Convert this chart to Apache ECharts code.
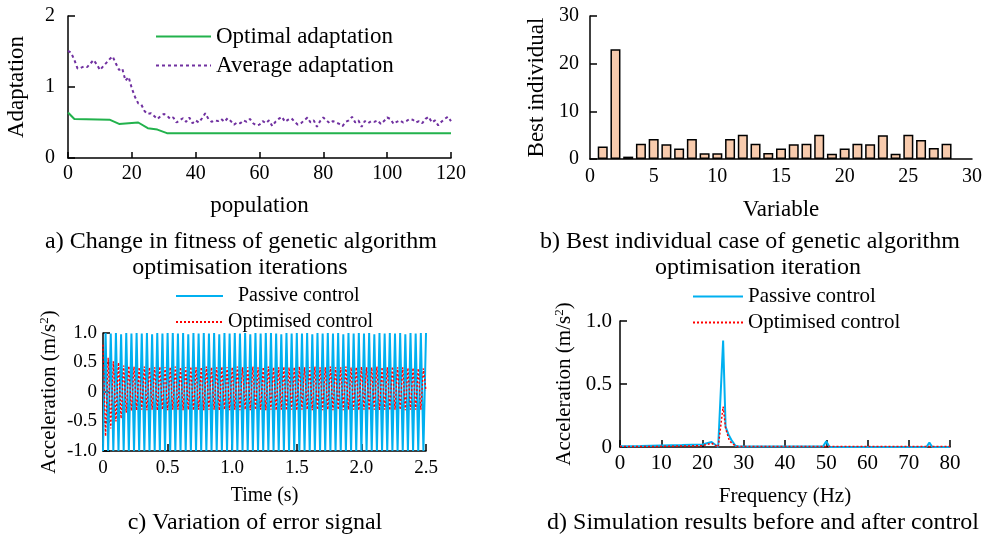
<!DOCTYPE html>
<html>
<head>
<meta charset="utf-8">
<script src="https://cdn.jsdelivr.net/npm/echarts@6/dist/echarts.min.js"></script>
<style>
  html, body { margin: 0; padding: 0; background: #fff; }
  #chart { width: 990px; height: 538px; }
</style>
</head>
<body>
<div id="chart"></div>
<script>
const serif = 'Liberation Serif, Times New Roman, serif';

// a) fitness per generation
const optimalGen = [0, 2, 13, 16, 22, 25, 28, 31, 120];
const optimalFit = [0.64, 0.55, 0.54, 0.48, 0.50, 0.42, 0.40, 0.35, 0.35];
// average fitness, one value per generation 0..120
const averageFit = [
  1.51, 1.48, 1.38, 1.26, 1.27, 1.29, 1.28, 1.33, 1.38, 1.32,
  1.24, 1.29, 1.34, 1.39, 1.43, 1.33, 1.24, 1.26, 1.09, 1.14,
  0.98, 0.86, 0.77, 0.75, 0.66, 0.62, 0.63, 0.59, 0.55, 0.59,
  0.62, 0.60, 0.55, 0.57, 0.50, 0.53, 0.56, 0.51, 0.57, 0.49,
  0.53, 0.50, 0.56, 0.63, 0.55, 0.51, 0.53, 0.52, 0.55, 0.51,
  0.56, 0.52, 0.47, 0.50, 0.49, 0.53, 0.51, 0.55, 0.49, 0.46,
  0.47, 0.52, 0.49, 0.53, 0.45, 0.51, 0.55, 0.58, 0.51, 0.54,
  0.56, 0.51, 0.47, 0.49, 0.53, 0.57, 0.50, 0.53, 0.44, 0.52,
  0.57, 0.53, 0.49, 0.52, 0.50, 0.48, 0.45, 0.51, 0.53, 0.58,
  0.50, 0.53, 0.44, 0.52, 0.49, 0.52, 0.51, 0.53, 0.48, 0.52,
  0.57, 0.55, 0.48, 0.51, 0.53, 0.50, 0.52, 0.55, 0.54, 0.50,
  0.52, 0.49, 0.55, 0.58, 0.50, 0.53, 0.46, 0.51, 0.55, 0.58,
  0.52
];

// b) best individual per variable
const variables = [1, 2, 3, 4, 5, 6, 7, 8, 9, 10, 11, 12, 13, 14, 15, 16, 17, 18, 19, 20, 21, 22, 23, 24, 25, 26, 27, 28];
const bestIndividual = [2.6, 23, 0.5, 3.2, 4.2, 3.1, 2.2, 4.2, 1.2, 1.2, 4.2, 5.1, 3.2, 1.25, 2.2, 3.1, 3.2, 5.1, 1.1, 2.2, 3.2, 3.1, 5.0, 1.1, 5.1, 4.0, 2.3, 3.2];

// c) error signal, sampled every 0.02 s from 0 to 2.5 s
const sampleStep = 0.02;
const passiveSignal = [
  -1.0, 1.0, -1.0, 0.99, -1.0, 1.0, -1.0, 0.98, -1.0, 1.0,
  -1.0, 0.99, -1.0, 1.0, -1.0, 0.99, -1.0, 1.0, -1.0, 0.98,
  -1.0, 1.0, -1.0, 0.99, -1.0, 1.0, -1.0, 1.0, -1.0, 0.99,
  -1.0, 1.0, -1.0, 0.98, -1.0, 1.0, -1.0, 0.99, -1.0, 1.0,
  -1.0, 0.99, -1.0, 1.0, -1.0, 0.98, -1.0, 1.0, -1.0, 0.99,
  -1.0, 1.0, -1.0, 0.99, -1.0, 1.0, -1.0, 0.98, -1.0, 1.0,
  -1.0, 0.99, -1.0, 1.0, -1.0, 1.0, -1.0, 0.99, -1.0, 0.98,
  -1.0, 1.0, -1.0, 0.99, -1.0, 1.0, -1.0, 0.99, -1.0, 1.0,
  -1.0, 0.98, -1.0, 1.0, -1.0, 0.99, -1.0, 1.0, -1.0, 0.99,
  -1.0, 1.0, -1.0, 0.98, -1.0, 1.0, -1.0, 0.99, -1.0, 1.0,
  -1.0, 0.99, -1.0, 1.0, -1.0, 0.98, -1.0, 1.0, -1.0, 0.99,
  -1.0, 1.0, -1.0, 0.99, -1.0, 1.0, -1.0, 0.98, -1.0, 1.0,
  -1.0, 0.99, -1.0, 1.0, -1.0, 1.0
];
const optimisedSignal = [
  0.80, -0.75, 0.58, -0.62, 0.52, -0.50, 0.50, -0.45, 0.45, -0.35,
  0.44, -0.32, 0.43, -0.31, 0.42, -0.30, 0.43, -0.31, 0.42, -0.30,
  0.42, -0.31, 0.43, -0.30, 0.42, -0.31, 0.42, -0.30, 0.43, -0.30,
  0.42, -0.31, 0.42, -0.30, 0.43, -0.31, 0.42, -0.30, 0.42, -0.31,
  0.43, -0.30, 0.42, -0.30, 0.42, -0.31, 0.43, -0.30, 0.42, -0.31,
  0.42, -0.30, 0.43, -0.31, 0.42, -0.30, 0.42, -0.31, 0.43, -0.30,
  0.42, -0.30, 0.42, -0.31, 0.43, -0.30, 0.42, -0.31, 0.42, -0.30,
  0.43, -0.31, 0.42, -0.30, 0.42, -0.31, 0.43, -0.30, 0.42, -0.30,
  0.42, -0.31, 0.43, -0.30, 0.42, -0.31, 0.42, -0.30, 0.43, -0.31,
  0.42, -0.30, 0.42, -0.31, 0.43, -0.30, 0.42, -0.30, 0.42, -0.31,
  0.43, -0.30, 0.42, -0.31, 0.42, -0.30, 0.43, -0.31, 0.42, -0.30,
  0.42, -0.31, 0.43, -0.30, 0.42, -0.30, 0.42, -0.31, 0.41, -0.30,
  0.41, -0.30, 0.40, -0.30, 0.40, 0.02
];

// d) spectrum
const passiveFreq = [0, 5, 10, 15, 20, 22.2, 23.8, 25, 25.6, 26.3, 27.1, 28, 29, 40, 49.2, 50, 50.8, 60, 70, 74.3, 75, 75.7, 80];
const passiveAmp = [0.005, 0.008, 0.012, 0.015, 0.02, 0.04, 0.0, 0.845, 0.16, 0.10, 0.05, 0.01, 0.003, 0.003, 0.003, 0.045, 0.0, 0.0, 0.0, 0.0, 0.035, 0.0, 0.0];
const optimisedFreq = [0, 10, 20, 22.2, 23.8, 25, 25.6, 26.5, 27.5, 28.5, 30, 80];
const optimisedAmp = [0.003, 0.005, 0.01, 0.03, 0.0, 0.32, 0.15, 0.05, 0.02, 0.003, 0.003, 0.003];

const captions = [
  { text: 'a) Change in fitness of genetic algorithm', x: 241, y: 242 },
  { text: 'optimisation iterations', x: 240, y: 268 },
  { text: 'b) Best individual case of genetic algorithm', x: 750, y: 242 },
  { text: 'optimisation iteration', x: 758, y: 268 },
  { text: 'c) Variation of error signal', x: 255, y: 523 },
  { text: 'd) Simulation results before and after control', x: 763, y: 523 }
];

function axis(opts) {
  return Object.assign({
    type: 'value',
    splitLine: { show: false },
    axisLine: { onZero: false, lineStyle: { color: '#000', width: 1.5 } },
    axisTick: { inside: true, length: 7, lineStyle: { color: '#000', width: 1.5 } },
    axisLabel: { color: '#000', fontFamily: serif, fontSize: 20 },
    nameLocation: 'middle',
    nameTextStyle: { color: '#000', fontFamily: serif, fontSize: 23 }
  }, opts);
}

const oneDecimal = v => (v === 0 ? '0' : v.toFixed(1));
const supRich = { sup: { fontSize: 13, fontFamily: serif, color: '#000', padding: [0, 0, 10, 0] } };

const chart = echarts.init(document.getElementById('chart'));
chart.setOption({
  animation: false,
  backgroundColor: '#fff',
  grid: [
    { left: 68, top: 16, width: 383, height: 142 },
    { left: 590, top: 16, width: 382, height: 143 },
    { left: 103, top: 333, width: 323, height: 118 },
    { left: 620, top: 321, width: 330, height: 126 }
  ],
  xAxis: [
    axis({ gridIndex: 0, min: 0, max: 120, interval: 20, name: 'population', nameGap: 36,
      axisTick: { inside: true, length: 6, lineStyle: { color: '#000', width: 1.5 } },
      axisLabel: { color: '#000', fontFamily: serif, fontSize: 20, margin: 6 } }),
    axis({ gridIndex: 1, min: 0, max: 30, interval: 5, name: 'Variable', nameGap: 39,
      axisTick: { show: false },
      axisLabel: { color: '#000', fontFamily: serif, fontSize: 20, margin: 8 } }),
    axis({ gridIndex: 2, min: 0, max: 2.5, interval: 0.5, name: 'Time (s)', nameGap: 35,
      axisLabel: { color: '#000', fontFamily: serif, fontSize: 19, margin: 8, formatter: oneDecimal },
      nameTextStyle: { color: '#000', fontFamily: serif, fontSize: 20 } }),
    axis({ gridIndex: 3, min: 0, max: 80, interval: 10, name: 'Frequency (Hz)', nameGap: 39,
      axisLabel: { color: '#000', fontFamily: serif, fontSize: 21, margin: 6 },
      nameTextStyle: { color: '#000', fontFamily: serif, fontSize: 21 } })
  ],
  yAxis: [
    axis({ gridIndex: 0, min: 0, max: 2, interval: 1, name: 'Adaptation', nameGap: 40,
      axisLabel: { color: '#000', fontFamily: serif, fontSize: 20, margin: 13 } }),
    axis({ gridIndex: 1, min: 0, max: 30, interval: 10, name: 'Best individual', nameGap: 42,
      axisLabel: { color: '#000', fontFamily: serif, fontSize: 20, margin: 11 } }),
    axis({ gridIndex: 2, min: -1, max: 1, interval: 0.5, name: 'Acceleration (m/s{sup|2})', nameRotate: 90, nameGap: 42,
      axisLabel: { color: '#000', fontFamily: serif, fontSize: 19, margin: 6, formatter: oneDecimal },
      nameTextStyle: { color: '#000', fontFamily: serif, fontSize: 21, rich: supRich } }),
    axis({ gridIndex: 3, min: 0, max: 1, interval: 0.5, name: 'Acceleration (m/s{sup|2})', nameRotate: 90, nameGap: 44,
      axisLabel: { color: '#000', fontFamily: serif, fontSize: 21, margin: 8, formatter: oneDecimal },
      nameTextStyle: { color: '#000', fontFamily: serif, fontSize: 21, rich: supRich } })
  ],
  legend: [
    { orient: 'vertical', left: 155, top: 25, padding: 0, itemWidth: 55, itemHeight: 12, itemGap: 6,
      itemStyle: { opacity: 0 },
      data: ['Optimal adaptation', 'Average adaptation'],
      textStyle: { color: '#000', fontFamily: serif, fontSize: 23 } },
    { orient: 'vertical', left: 175, top: 286, padding: 0, itemWidth: 47, itemHeight: 12, itemGap: 6,
      itemStyle: { opacity: 0 },
      data: ['Passive control', 'Optimised control'],
      formatter: name => (name === 'Passive control' ? '  ' + name : name),
      textStyle: { color: '#000', fontFamily: serif, fontSize: 20 } },
    { orient: 'vertical', left: 692, top: 286, padding: 0, itemWidth: 50, itemHeight: 12, itemGap: 5,
      itemStyle: { opacity: 0 },
      data: ['Passive control', 'Optimised control'],
      textStyle: { color: '#000', fontFamily: serif, fontSize: 21 } }
  ],
  graphic: captions.map(c => ({
    type: 'text', x: c.x, y: c.y,
    style: { text: c.text, fill: '#000', fontFamily: serif, fontSize: 24, align: 'center', verticalAlign: 'middle' }
  })),
  series: [
    { name: 'Optimal adaptation', type: 'line', xAxisIndex: 0, yAxisIndex: 0, symbol: 'none',
      data: optimalGen.map((g, i) => [g, optimalFit[i]]),
      itemStyle: { color: '#22b24c' }, lineStyle: { color: '#22b24c', width: 2 } },
    { name: 'Average adaptation', type: 'line', xAxisIndex: 0, yAxisIndex: 0, symbol: 'none',
      data: averageFit.map((v, gen) => [gen, v]),
      itemStyle: { color: '#7030a0' }, lineStyle: { color: '#7030a0', width: 2, type: [3, 3] } },
    { name: 'Best individual', type: 'bar', xAxisIndex: 1, yAxisIndex: 1, barWidth: 10,
      data: variables.map((x, i) => [x, bestIndividual[i]]),
      itemStyle: { color: '#f8cbad', borderColor: '#000', borderWidth: 1.5 } },
    { name: 'Passive control', type: 'line', xAxisIndex: 2, yAxisIndex: 2, symbol: 'none',
      data: passiveSignal.map((v, k) => [k * sampleStep, v]),
      itemStyle: { color: '#00b0f0' }, lineStyle: { color: '#00b0f0', width: 2 } },
    { name: 'Optimised control', type: 'line', xAxisIndex: 2, yAxisIndex: 2, symbol: 'none',
      data: optimisedSignal.map((v, k) => [k * sampleStep, v]),
      itemStyle: { color: '#ff0000' }, lineStyle: { color: '#ff0000', width: 1.4, type: [2, 2] } },
    { name: 'Passive control', type: 'line', xAxisIndex: 3, yAxisIndex: 3, symbol: 'none',
      data: passiveFreq.map((f, i) => [f, passiveAmp[i]]),
      itemStyle: { color: '#00b0f0' }, lineStyle: { color: '#00b0f0', width: 2 } },
    { name: 'Optimised control', type: 'line', xAxisIndex: 3, yAxisIndex: 3, symbol: 'none',
      data: optimisedFreq.map((f, i) => [f, optimisedAmp[i]]),
      itemStyle: { color: '#ff0000' }, lineStyle: { color: '#ff0000', width: 1.5, type: [2, 2] } }
  ]
});
</script>
</body>
</html>
